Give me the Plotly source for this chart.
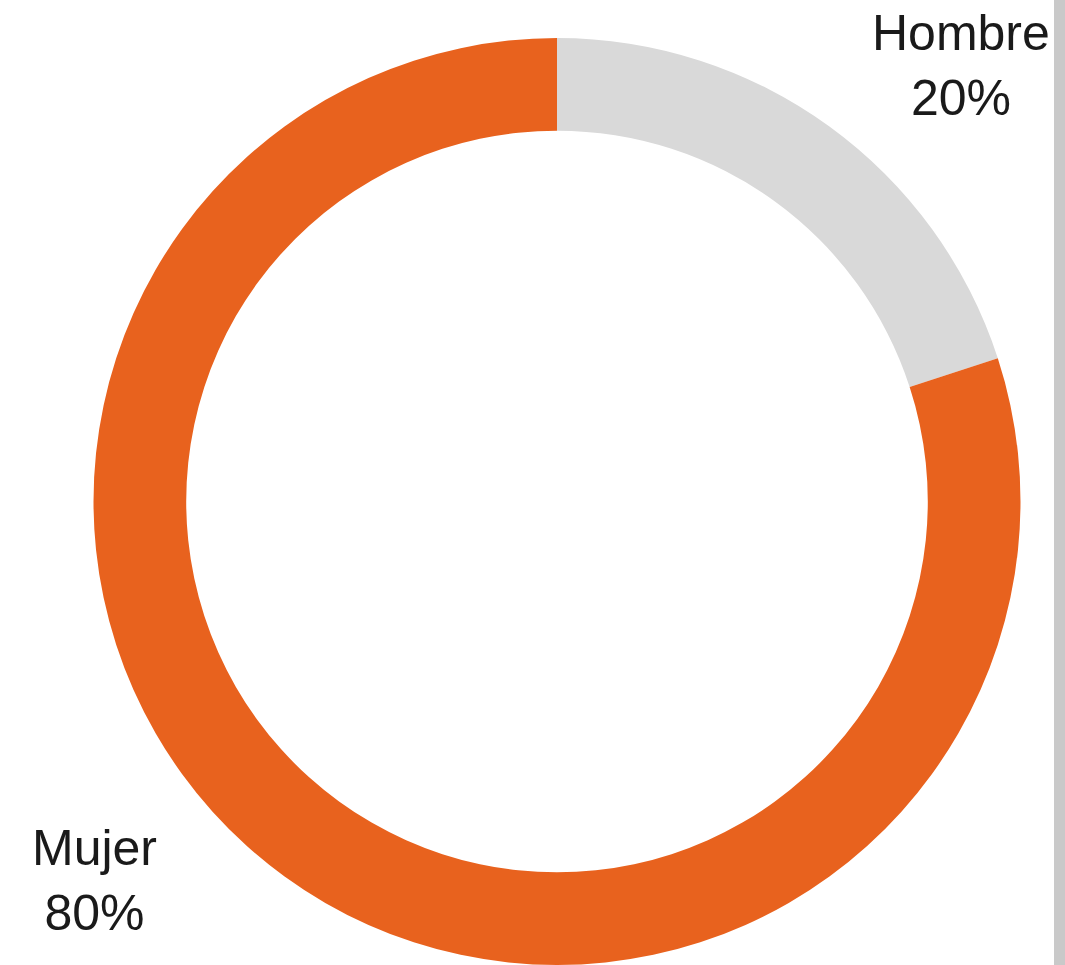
import plotly.graph_objects as go

labels = ["Hombre", "Mujer"]
values = [20, 80]
colors = ["#D9D9D9", "#E8621E"]

W, H = 1065, 965

def fx(px):
    return px / W

def fy(py):
    return 1 - py / H

fig = go.Figure()
fig.add_trace(go.Pie(
    labels=labels,
    values=values,
    hole=0.8,
    sort=False,
    direction="clockwise",
    rotation=0,
    marker=dict(colors=colors, line=dict(width=0)),
    textinfo="none",
    hoverinfo="label+percent",
    showlegend=False,
    domain=dict(x=[fx(92), fx(1022)], y=[0.0, fy(38)]),
))

total = sum(values)
label_pos = {"Hombre": (961, 66), "Mujer": (94, 880)}
for lab, val in zip(labels, values):
    px, py = label_pos[lab]
    fig.add_annotation(
        x=fx(px), y=fy(py), xref="paper", yref="paper",
        xanchor="center", yanchor="middle",
        text=f"{lab}<br>{round(val / total * 100)}%",
        showarrow=False,
        borderpad=0,
        font=dict(family="Liberation Sans, Arial, sans-serif", size=50, color="#1a1a1a"),
    )

fig.add_shape(type="rect", xref="paper", yref="paper",
              x0=fx(1054), x1=1, y0=0, y1=1,
              fillcolor="#C9C9C9", line=dict(width=0))

fig.update_layout(
    width=W, height=H,
    margin=dict(l=0, r=0, t=0, b=0),
    paper_bgcolor="white",
    plot_bgcolor="white",
)

fig.write_html("out.html",
               config={"displayModeBar": False},
               post_script="document.body.style.margin='0';document.body.style.overflow='hidden';")
